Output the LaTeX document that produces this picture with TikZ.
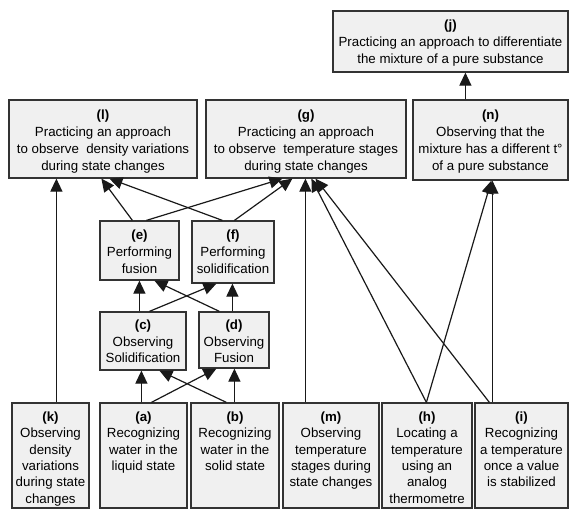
\documentclass[tikz,border=0pt]{standalone}
\usepackage{fontspec}
\setmainfont{Liberation Sans}
\usetikzlibrary{arrows.meta,fit}
\begin{document}
\begin{tikzpicture}[x=1pt,y=-1pt,
 box/.style={draw=black!80, fill=black!6, line width=1.2pt, inner sep=0pt},
 lbl/.style={align=center, font=\fontsize{13.3}{17}\selectfont, inner sep=0pt, anchor=north},
 lblb/.style={lbl, font=\fontsize{13.3}{16.4}\selectfont},
 arr/.style={-{Triangle[length=13pt,width=12pt]}, line width=1.2pt, black!90}]
\useasboundingbox (0,0) rectangle (570,514);
% boxes
\node[box, fit={(333,11) (568,72)}] (j) {};
\node[box, fit={(9,100) (197,178)}] (l) {};
\node[box, fit={(206,100) (406,178)}] (g) {};
\node[box, fit={(413,100) (568,180)}] (n) {};
\node[box, fit={(100,221) (179,280)}] (e) {};
\node[box, fit={(192,221) (274,283)}] (f) {};
\node[box, fit={(100,312) (186,370)}] (c) {};
\node[box, fit={(199,312) (269,368)}] (d) {};
\node[box, fit={(12,403) (89,508)}] (k) {};
\node[box, fit={(100,403) (187,508)}] (a) {};
\node[box, fit={(191,403) (279,508)}] (b) {};
\node[box, fit={(283,403) (379,508)}] (m) {};
\node[box, fit={(382,403) (472,508)}] (h) {};
\node[box, fit={(475,403) (568,508)}] (i) {};
% texts
\node[lbl] (jt) at ([yshift=-9pt]j.north) {\textbf{(j)}\\Practicing an approach to differentiate\\the mixture of a pure substance};
\node[lbl] (lt) at ([yshift=-10.5pt]l.north) {\textbf{(l)}\\Practicing an approach\\to observe~ density variations\\during state changes};
\node[lbl] (gt) at ([yshift=-10pt]g.north) {\textbf{(g)}\\Practicing an approach\\to observe~ temperature stages\\during state changes};
\node[lbl] (nt) at ([yshift=-10pt]n.north) {\textbf{(n)}\\Observing that the\\mixture has a different t°\\of a pure substance};
\node[lbl] (et) at ([yshift=-9pt]e.north) {\textbf{(e)}\\Performing\\fusion};
\node[lbl] (ft) at ([yshift=-9pt]f.north) {\textbf{(f)}\\Performing\\solidification};
\node[lblb] (ct) at ([yshift=-8.5pt]c.north) {\textbf{(c)}\\Observing\\Solidification};
\node[lblb] (dt) at ([yshift=-8.5pt]d.north) {\textbf{(d)}\\Observing\\Fusion};
\node[lblb] (kt) at ([yshift=-9pt]k.north) {\textbf{(k)}\\Observing\\density\\variations\\during state\\changes};
\node[lblb] (at) at ([yshift=-9pt]a.north) {\textbf{(a)}\\Recognizing\\water in the\\liquid state};
\node[lblb] (bt) at ([yshift=-9pt]b.north) {\textbf{(b)}\\Recognizing\\water in the\\solid state};
\node[lblb] (mt) at ([yshift=-9pt]m.north) {\textbf{(m)}\\Observing\\temperature\\stages during\\state changes};
\node[lblb] (ht) at ([yshift=-9pt]h.north) {\textbf{(h)}\\Locating a\\temperature\\using an\\analog\\thermometre};
\node[lblb] (it) at ([yshift=-9pt]i.north) {\textbf{(i)}\\Recognizing\\a temperature\\once a value\\is stabilized};
% arrows
\draw[arr] ([xshift=45pt]k.north west) -- ([xshift=48pt]l.south west);
\draw[arr] ([xshift=42pt]a.north west) -- ([xshift=42pt]c.south west);
\draw[arr] ([xshift=52pt]a.north west) -- ([xshift=18pt]d.south west);
\draw[arr] ([xshift=36pt]b.north west) -- ([xshift=60pt]c.south west);
\draw[arr] ([xshift=44pt]b.north west) -- ([xshift=36pt]d.south west);
\draw[arr] ([xshift=40pt]c.north west) -- ([xshift=40pt]e.south west);
\draw[arr] ([xshift=50pt]c.north west) -- ([xshift=25pt]f.south west);
\draw[arr] ([xshift=21pt]d.north west) -- ([xshift=55pt]e.south west);
\draw[arr] ([xshift=34pt]d.north west) -- ([xshift=41pt]f.south west);
\draw[arr] ([xshift=33pt]e.north west) -- ([xshift=93pt]l.south west);
\draw[arr] ([xshift=47pt]e.north west) -- ([xshift=77pt]g.south west);
\draw[arr] ([xshift=31pt]f.north west) -- ([xshift=101pt]l.south west);
\draw[arr] ([xshift=43pt]f.north west) -- ([xshift=87pt]g.south west);
\draw[arr] ([xshift=23pt]m.north west) -- ([xshift=100pt]g.south west);
\draw[arr] ([xshift=45pt]h.north west) -- ([xshift=106pt]g.south west);
\draw[arr] ([xshift=45pt]h.north west) -- ([xshift=79pt]n.south west);
\draw[arr] ([xshift=15pt]i.north west) -- ([xshift=110pt]g.south west);
\draw[arr] ([xshift=18pt]i.north west) -- ([xshift=80pt]n.south west);
\draw[arr] ([xshift=53pt]n.north west) -- ([xshift=133pt]j.south west);
\end{tikzpicture}
\end{document}
